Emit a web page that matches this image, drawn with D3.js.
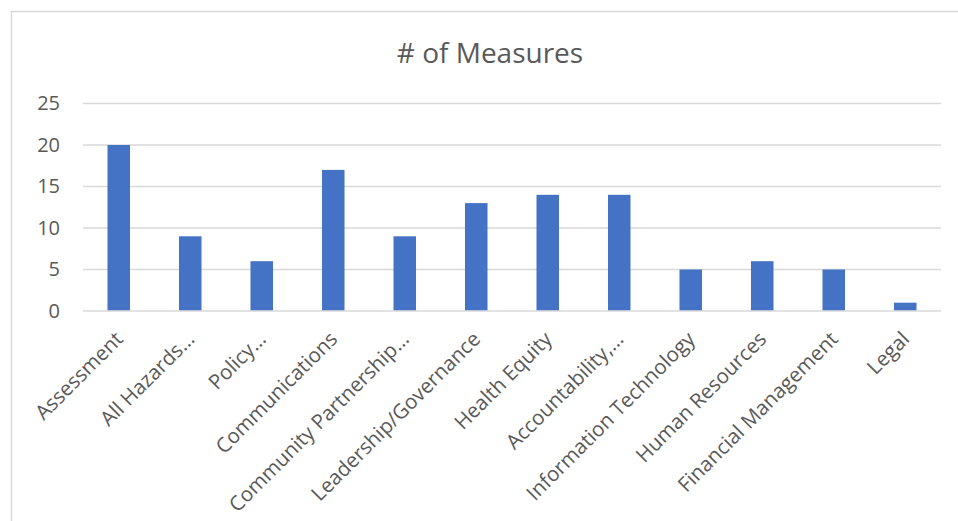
<!doctype html>
<html lang="en">
<head>
<meta charset="UTF-8">
<title># of Measures</title>
<script src="https://d3js.org/d3.v7.min.js"></script>
<style>
body { margin: 0; background-color: #ffffff; font-family: "Open Sans", sans-serif; }
svg { display: block; }
.grid line { stroke: #d9d9d9; stroke-width: 1.5; }
.axis text { font-family: "Open Sans", sans-serif; font-size: 20px; fill: #595959; }
.axis.x text { font-size: 20.5px; }
</style>
</head>
<body>
<div id="plot"></div>
<script>

var categories = ["Assessment", "All Hazards\u2026", "Policy\u2026", "Communications",
  "Community Partnership\u2026", "Leadership/Governance", "Health Equity",
  "Accountability,\u2026", "Information Technology", "Human Resources",
  "Financial Management", "Legal"];
var measures = [20, 9, 6, 17, 9, 13, 14, 14, 5, 6, 5, 1];
var yTicks = [0, 5, 10, 15, 20, 25];

var width = 958;
var height = 521;
var plotLeft = 83, plotRight = 941, plotTop = 103.5, plotBottom = 311;

var svg = d3.select("#plot").append("svg")
  .attr("width", width)
  .attr("height", height);

// chart area border, runs off the right and bottom edge
svg.append("rect")
  .attr("x", 11.5)
  .attr("y", 11.5)
  .attr("width", 960)
  .attr("height", 520)
  .style("fill", "none")
  .style("stroke", "#d9d9d9")
  .style("stroke-width", 1.5);

svg.append("text")
  .attr("x", 490)
  .attr("y", 63)
  .attr("text-anchor", "middle")
  .style("font-size", "28px")
  .style("fill", "#595959")
  .text("# of Measures");

var xScale = d3.scaleBand().domain(categories)
  .range([plotLeft, plotRight])
  .paddingInner(0.685)
  .paddingOuter(0.3425);

var yScale = d3.scaleLinear().domain([0, 25])
  .range([plotBottom, plotTop]);

svg.append("g")
  .attr("class", "grid")
  .selectAll("line")
  .data(yTicks)
  .enter().append("line")
  .attr("x1", plotLeft)
  .attr("x2", plotRight)
  .attr("y1", function (d) { return yScale(d); })
  .attr("y2", function (d) { return yScale(d); });

var yAxis = d3.axisLeft(yScale).tickValues(yTicks).tickSize(0).tickPadding(0);

svg.append("g")
  .attr("class", "axis")
  .attr("transform", "translate(60, 0)")
  .call(yAxis)
  .call(function (g) { g.select(".domain").remove(); });

svg.selectAll("rect.bar")
  .data(measures)
  .enter().append("rect")
  .attr("class", "bar")
  .attr("x", function (d, i) { return xScale(categories[i]); })
  .attr("y", function (d) { return yScale(d); })
  .attr("width", xScale.bandwidth())
  .attr("height", function (d) { return yScale(0) - yScale(d) - 0.75; })
  .style("fill", "#4472c4");

var xAxis = d3.axisBottom(xScale).tickSize(0).tickPadding(0);

svg.append("g")
  .attr("class", "axis x")
  .attr("transform", "translate(0, " + plotBottom + ")")
  .call(xAxis)
  .call(function (g) { g.select(".domain").remove(); })
  .selectAll("text")
  .attr("text-anchor", "end")
  .attr("dy", "0.72em")
  .attr("transform", "translate(-5, 19) rotate(-45)");

</script>
</body>
</html>
